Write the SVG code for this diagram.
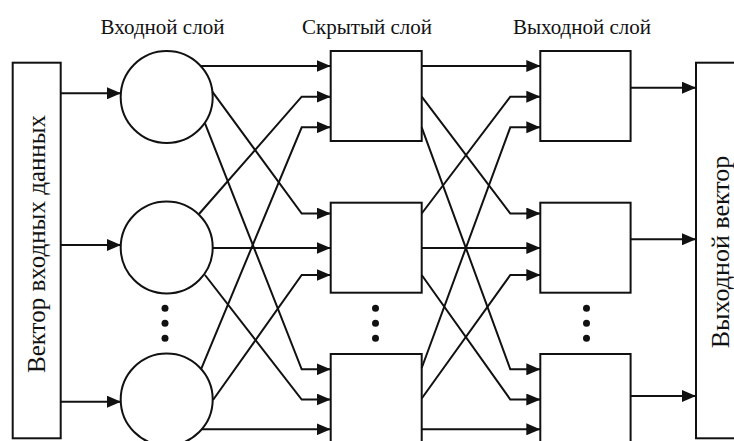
<svg xmlns="http://www.w3.org/2000/svg" width="734" height="441" viewBox="0 0 734 441">
  <style>
    .box { fill: #fff; stroke: #111; stroke-width: 2; }
    .neuron { fill: #fff; stroke: #111; stroke-width: 2; }
    .wire { fill: none; stroke: #111; stroke-width: 2; marker-end: url(#arrow); }
    .dot { fill: #111; }
    .title { font-family: "Liberation Serif", "DejaVu Serif", serif; font-size: 21px; fill: #111; text-anchor: middle; }
    .vlabel { font-family: "Liberation Serif", "DejaVu Serif", serif; font-size: 25px; fill: #111; text-anchor: middle; }
  </style>
  <defs>
    <marker id="arrow" markerUnits="userSpaceOnUse" markerWidth="14" markerHeight="12" refX="14" refY="6" orient="auto">
      <path d="M0,0 L14,6 L0,12 z" fill="#111"/>
    </marker>
  </defs>
  <rect width="734" height="441" fill="#fff"/>

  <!-- layer titles -->
  <text class="title" x="162.5" y="34">Входной слой</text>
  <text class="title" x="367" y="34">Скрытый слой</text>
  <text class="title" x="582" y="34">Выходной слой</text>

  <!-- input vector -->
  <g id="input-vector">
    <rect class="box" x="12.7" y="62.7" width="48" height="375.6"/>
    <text class="vlabel" transform="translate(45,244) rotate(-90)">Вектор входных данных</text>
  </g>

  <!-- input layer neurons -->
  <g id="in-1"><circle class="neuron" cx="166.7" cy="97" r="46"/></g>
  <g id="in-2"><circle class="neuron" cx="166.7" cy="247.5" r="46"/></g>
  <g id="in-3"><circle class="neuron" cx="166.7" cy="399.5" r="46"/></g>
  <g id="in-ellipsis">
    <circle class="dot" cx="165" cy="308.3" r="3.5"/>
    <circle class="dot" cx="165" cy="323.3" r="3.5"/>
    <circle class="dot" cx="165" cy="338.3" r="3.5"/>
  </g>

  <!-- hidden layer -->
  <g id="hid-1"><rect class="box" x="330.7" y="51" width="91" height="90"/></g>
  <g id="hid-2"><rect class="box" x="330.7" y="202.7" width="91" height="90"/></g>
  <g id="hid-3"><rect class="box" x="330.7" y="354" width="91" height="92"/></g>
  <g id="hid-ellipsis">
    <circle class="dot" cx="375.5" cy="308.3" r="3.5"/>
    <circle class="dot" cx="375.5" cy="323.3" r="3.5"/>
    <circle class="dot" cx="375.5" cy="338.3" r="3.5"/>
  </g>

  <!-- output layer -->
  <g id="out-1"><rect class="box" x="540.3" y="51" width="90.3" height="90"/></g>
  <g id="out-2"><rect class="box" x="540.3" y="202.7" width="90.3" height="90"/></g>
  <g id="out-3"><rect class="box" x="540.3" y="354" width="90.3" height="92"/></g>
  <g id="out-ellipsis">
    <circle class="dot" cx="586.5" cy="308.3" r="3.5"/>
    <circle class="dot" cx="586.5" cy="323.3" r="3.5"/>
    <circle class="dot" cx="586.5" cy="338.3" r="3.5"/>
  </g>

  <!-- output vector -->
  <g id="output-vector">
    <rect class="box" x="696" y="62.7" width="50" height="375.6"/>
    <text class="vlabel" transform="translate(728.5,252) rotate(-90)" style="font-size:26px">Выходной вектор</text>
  </g>

  <g id="connectors">
    <!-- input vector to input neurons -->
    <path class="wire" d="M60.7,93.3 H121"/>
    <path class="wire" d="M60.7,245 H121"/>
    <path class="wire" d="M60.7,401.7 H121"/>

    <!-- input neurons to hidden layer -->
    <path class="wire" d="M200.5,66 H330.7"/>
    <path class="wire" d="M212.3,91.7 L301.7,213.5 H330.7"/>
    <path class="wire" d="M205,123.3 L301.7,369.3 H330.7"/>
    <path class="wire" d="M199,214 L301.7,96.7 H330.7"/>
    <path class="wire" d="M212.7,248 H330.7"/>
    <path class="wire" d="M205,275 L301.7,399.5 H330.7"/>
    <path class="wire" d="M201,369.3 L301.7,127.3 H330.7"/>
    <path class="wire" d="M213,400 L301.7,275 H330.7"/>
    <path class="wire" d="M201.7,429.3 H330.7"/>

    <!-- hidden layer to output layer -->
    <path class="wire" d="M421.7,66 H540.3"/>
    <path class="wire" d="M421.7,96.7 L510.3,213.5 H540.3"/>
    <path class="wire" d="M421.7,127.3 L510.3,369.3 H540.3"/>
    <path class="wire" d="M421.7,213.5 L510.3,96.7 H540.3"/>
    <path class="wire" d="M421.7,248 H540.3"/>
    <path class="wire" d="M421.7,275 L510.3,399.5 H540.3"/>
    <path class="wire" d="M421.7,368 L510.3,127.3 H540.3"/>
    <path class="wire" d="M421.7,398.5 L510.3,275 H540.3"/>
    <path class="wire" d="M421.7,429.3 H540.3"/>

    <!-- output layer to output vector -->
    <path class="wire" d="M630.6,87.7 H696"/>
    <path class="wire" d="M630.6,239.3 H696"/>
    <path class="wire" d="M630.6,396 H696"/>
  </g>
</svg>
